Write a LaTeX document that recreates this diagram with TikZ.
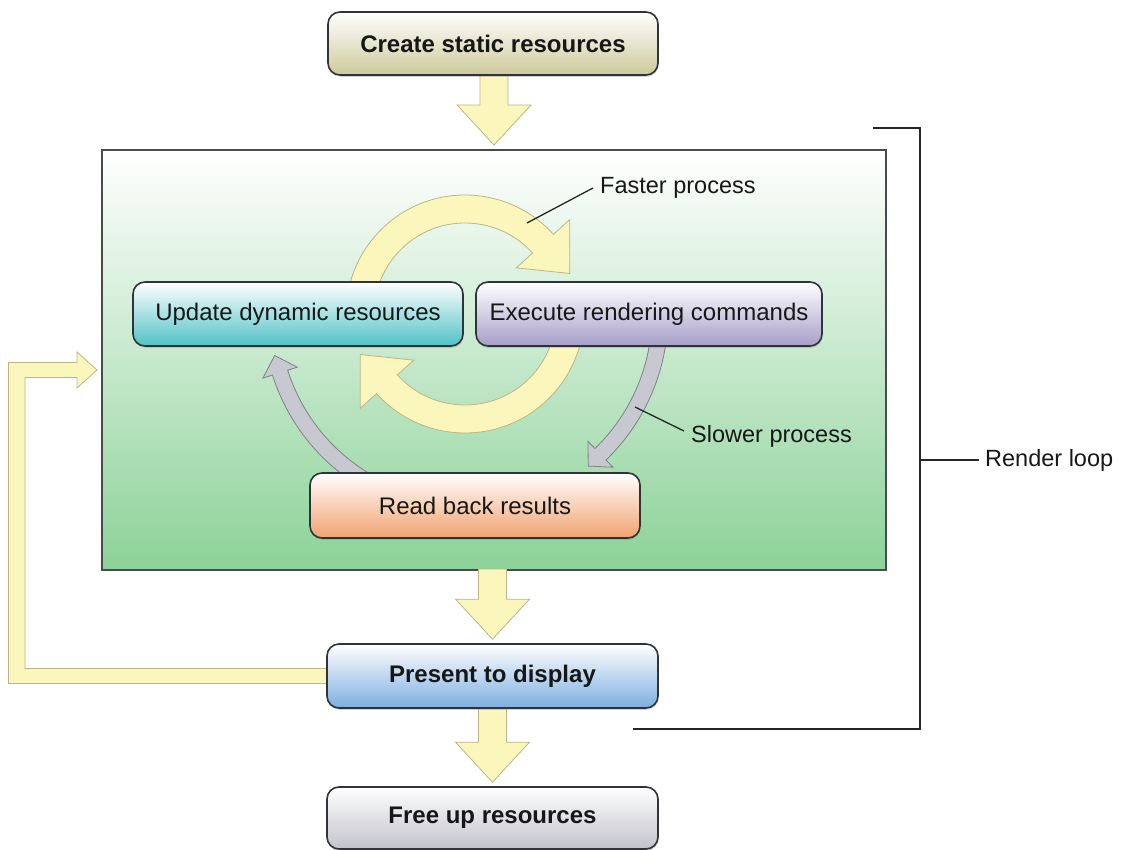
\documentclass[tikz,border=0pt]{standalone}
\usepackage{fontspec}
\setmainfont{Liberation Sans}
\usetikzlibrary{calc,shadows}
\pgfdeclarelayer{panel}
\pgfdeclarelayer{flow}
\pgfsetlayers{panel,flow,main}

\definecolor{ink}{RGB}{22,24,24}
\definecolor{edge}{RGB}{48,52,58}
\definecolor{creambot}{RGB}{206,202,156}
\definecolor{tealbot}{RGB}{80,194,198}
\definecolor{lavbot}{RGB}{166,158,200}
\definecolor{orangebot}{RGB}{240,162,112}
\definecolor{bluebot}{RGB}{126,174,224}
\definecolor{greybot}{RGB}{194,195,202}
\definecolor{panelgreen}{RGB}{140,210,152}
\definecolor{panelline}{RGB}{72,76,78}
\definecolor{arrowfill}{RGB}{251,247,188}
\definecolor{arrowline}{RGB}{186,182,136}
\definecolor{slowfill}{RGB}{200,200,208}
\definecolor{slowline}{RGB}{128,128,134}

% curved band arrow around the current origin:
% #1 style, #2 start angle, #3 head base angle, #4 mid radius,
% #5 half band width, #6 half head width, #7 head length
\newcommand\curvarrow[7]{%
  \path[#1] ({#2}:{#4+#5}) arc[start angle={#2}, end angle={#3}, radius={#4+#5}]
    -- ({#3}:{#4+#6}) -- ($({#3}:{#4})+({#3-90}:{#7})$) -- ({#3}:{#4-#6})
    -- ({#3}:{#4-#5}) arc[start angle={#3}, end angle={#2}, radius={#4-#5}] -- cycle;}

% broad downward arrow from the bottom of one node to the top of the next
\newcommand\dropflow[2]{%
  \path[fatarrow] let \p1=(#1.south), \p2=(#2.north) in
    (\x2-14pt,\y1+2pt) -- (\x2+14pt,\y1+2pt) -- (\x2+14pt,\y2+44pt)
    -- (\x2+37pt,\y2+44pt) -- (\x2,\y2+4pt) -- (\x2-37pt,\y2+44pt)
    -- (\x2-14pt,\y2+44pt) -- cycle;}

\tikzset{
  stage/.style={draw=edge, line width=1.6pt, rounded corners=12pt, inner sep=0pt,
    text=ink, top color=white,
    drop shadow={shadow xshift=0.6pt, shadow yshift=-1.8pt, opacity=0.35}},
  boldstage/.style={stage, font=\fontsize{24}{28}\selectfont\bfseries},
  plainstage/.style={stage, font=\fontsize{24}{28}\selectfont},
  fatarrow/.style={fill=arrowfill, draw=arrowline, line width=0.8pt, line join=miter},
  slowarrow/.style={fill=slowfill, draw=slowline, line width=0.8pt, line join=miter},
  note/.style={font=\fontsize{23.5}{28}\selectfont, text=ink, inner sep=0pt, anchor=west},
  leader/.style={draw=black!85, line width=1.3pt},
  bracket/.style={draw=black!85, line width=1.6pt},
}

\begin{document}
\begin{tikzpicture}[x=1pt, y=-1pt]
\useasboundingbox (0,0) rectangle (1124,850);

% render-loop panel
\begin{pgfonlayer}{panel}
  \node[draw=panelline, line width=2pt, top color=white, bottom color=panelgreen,
        minimum width=784pt, minimum height=420pt, inner sep=0pt] (loop) at (494,360) {};
\end{pgfonlayer}

% stages
\node[boldstage, bottom color=creambot, minimum width=330pt, minimum height=63pt]
  (create) at (493,43.5) {Create static resources};
\node[plainstage, bottom color=tealbot, minimum width=330pt, minimum height=64pt]
  (update) at (298,314) {Update dynamic resources};
\node[plainstage, bottom color=lavbot, minimum width=346pt, minimum height=64pt]
  (execute) at (649,314) {Execute rendering commands};
\node[plainstage, bottom color=orangebot, minimum width=330pt, minimum height=65pt]
  (readback) at (475,505.5) {Read back results};
\node[boldstage, bottom color=bluebot, minimum width=331pt, minimum height=64pt]
  (present) at (492.5,676) {Present to display};
\node[boldstage, bottom color=greybot, minimum width=331pt, minimum height=62pt]
  (free) at (492.5,818) {Free up resources};

\coordinate (hub) at (465,314);

\begin{pgfonlayer}{flow}
  % main flow
  \dropflow{create}{loop}
  \dropflow{loop}{present}
  \dropflow{present}{free}

  % feedback from presentation back into the loop
  \coordinate (fbstart) at ($(present.west)+(3,0)$);
  \coordinate (fbtip) at ($(loop.west)+(-4,10)$);
  \path[fatarrow] let \p1=(fbstart), \p2=(fbtip) in
    (\x1,\y1-7.5pt) -- (8.5pt,\y1-7.5pt) -- (8.5pt,\y2+7.5pt)
    -- (\x2-20pt,\y2+7.5pt) -- (\x2-20pt,\y2+18pt) -- (\x2,\y2)
    -- (\x2-20pt,\y2-18pt) -- (\x2-20pt,\y2-7.5pt) -- (25pt,\y2-7.5pt)
    -- (25pt,\y1+7.5pt) -- (\x1,\y1+7.5pt) -- cycle;

  % fast and slow cycles
  \begin{scope}[shift={(hub)}, x=1pt, y=1pt]
    \curvarrow{fatarrow}{185}{42}{105}{14}{36}{40}
    \curvarrow{fatarrow}{5}{-138}{105}{14}{36}{40}
    \curvarrow{slowarrow}{-6}{-46}{195}{8}{18}{17}
    \curvarrow{slowarrow}{242}{197.6}{194}{8}{18}{18}
  \end{scope}
\end{pgfonlayer}

% annotations
\node[note] (fast) at (600,188) {Faster process};
\coordinate (fastpt) at (527,223);
\draw[leader] (fastpt) -- ($(fast.west)+(-7,0)$);

\node[note] (slow) at (691,436) {Slower process};
\coordinate (slowpt) at (635,407);
\draw[leader] (slowpt) -- ($(slow.west)+(-7,-5)$);

% render-loop bracket
\coordinate (brtop) at (873,128);
\coordinate (brbot) at (633,729);
\coordinate (brmid) at (920,460);
\node[note] (rl) at (985,460) {Render loop};
\draw[bracket] (brtop) -- (brtop -| brmid) -- (brbot -| brmid) -- (brbot);
\draw[bracket] (brmid) -- ($(rl.west)+(-6,0)$);
\end{tikzpicture}
\end{document}
